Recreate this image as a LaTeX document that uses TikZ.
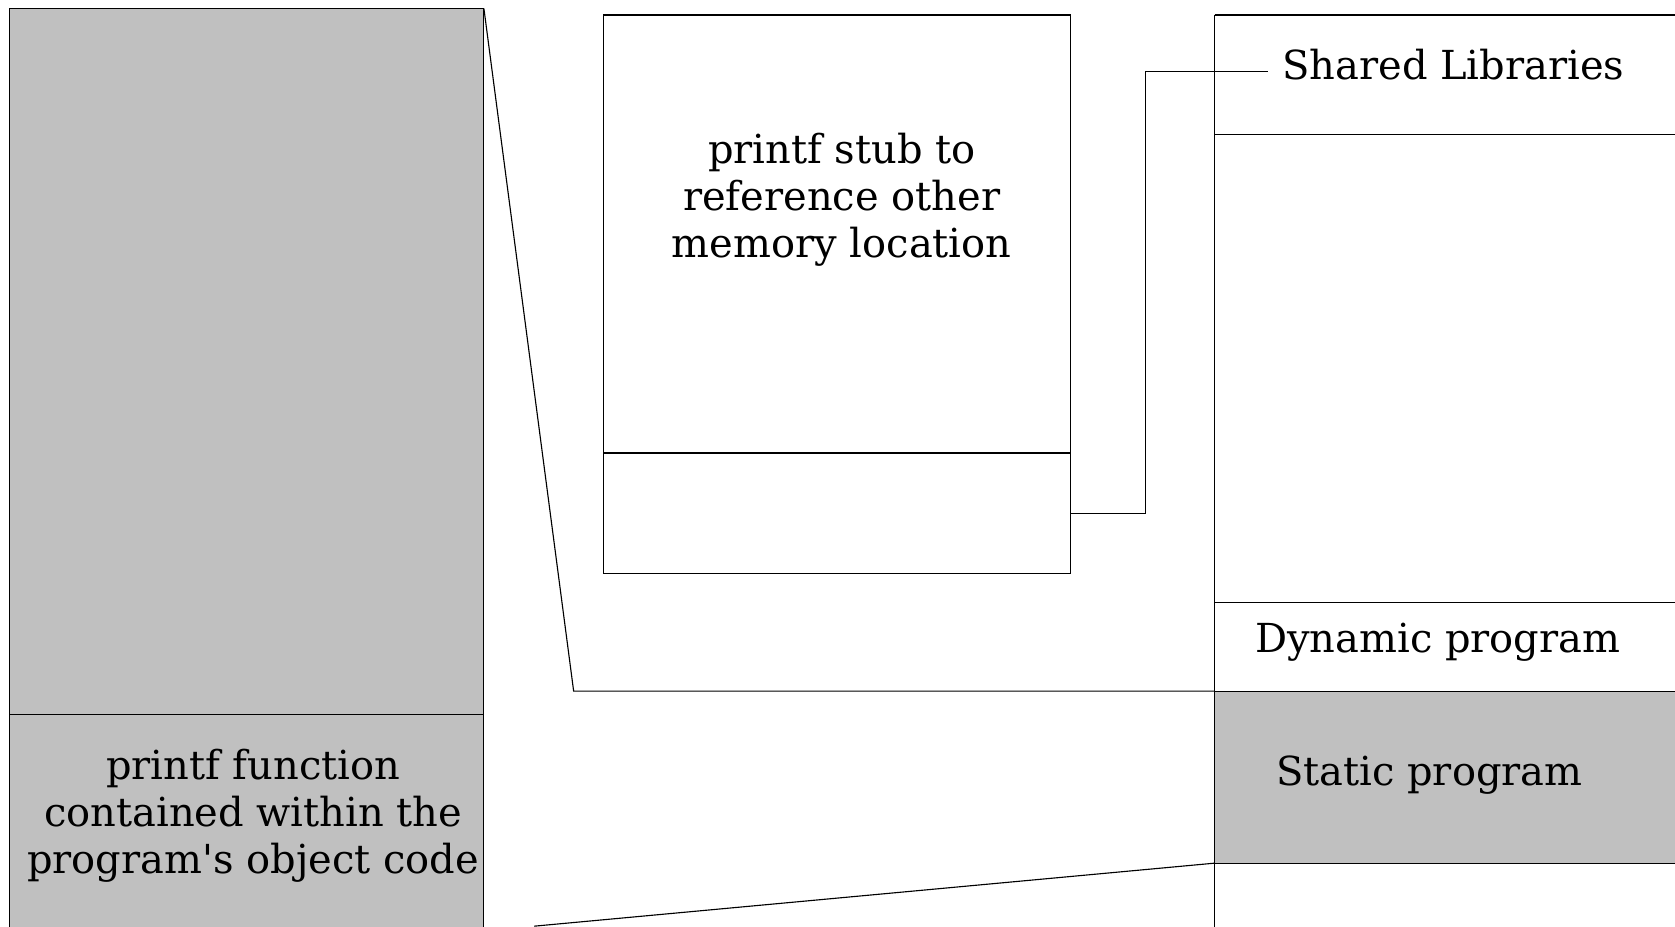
\documentclass[tikz,border=0pt]{standalone}
\usepackage{fontspec}
\setmainfont{DejaVu Serif}[Ligatures=TeXOff]
\definecolor{memgray}{RGB}{192,192,192}
\tikzset{
    memline/.style={draw=black, line width=0.6pt},
    memtext/.style={font=\fontsize{21.3}{24.9}\selectfont, align=center, inner sep=0pt}
}

\begin{document}
\begin{tikzpicture}[x=0.02cm, y=-0.02cm]
    \useasboundingbox (0,0) rectangle (1568,867);
    \clip (0,0) rectangle (1568,867);
    % program's object code
    \draw [memline, fill=memgray] (9,8) rectangle (453,890);
    \draw [memline] (9,669) -- (453,669);
    \node [memtext] (objtext) at (237,763.5) {printf function\\contained within the\\program's object code};
    % printf stub
    \node [memline, minimum width=8.74cm, minimum height=10.46cm, inner sep=0pt] (stub) at (783.5,275.5) {};
    \draw [memline] (stub.west |- 0,424) -- (stub.east |- 0,424);
    \node [memtext] (stubtext) at (788,187) {printf stub to\\reference other\\memory location};
    % memory map
    \coordinate (objtop) at (453,8);
    \coordinate (objbot) at (500,867);
    \coordinate (dynbase) at (1137,647);
    \coordinate (statbase) at (1137,808);
    \draw [memline] (1137,14) -- (1600,14);
    \draw [memline] (1137,14) -- (1137,890);
    \draw [memline] (1137,126) -- (1600,126);
    \draw [memline] (1137,564) -- (1600,564);
    \draw [memline, fill=memgray] (dynbase) rectangle (1600,808);
    \node [memtext, anchor=base west, inner xsep=0.26cm] (shlib) at (1187,74) {Shared Libraries};
    \node [memtext] (dyntext) at (1346,601) {Dynamic program};
    \node [memtext] (stattext) at (1338,726) {Static program};
    % zoom lines
    \draw [memline] (objtop) -- (537,647) -- (dynbase);
    \draw [memline] (objbot) -- (statbase);
    % stub to shared libraries
    \coordinate (stubout) at (stub.east |- 0,481);
    \coordinate (turn) at (1072,67);
    \draw [memline] (stubout) -- (turn |- stubout) -- (turn) -- (shlib.west |- turn);
\end{tikzpicture}
\end{document}
